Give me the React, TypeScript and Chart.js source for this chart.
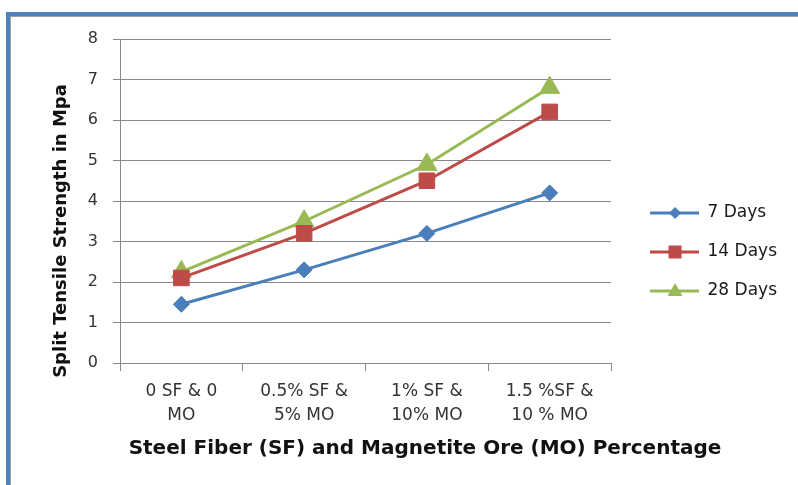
import React, { useEffect, useRef } from "react";
import { Chart, registerables } from "chart.js";

Chart.register(...registerables);

const categories: string[][] = [
  ["0 SF & 0", "MO"],
  ["0.5% SF &", "5% MO"],
  ["1% SF &", "10% MO"],
  ["1.5 %SF &", "10 % MO"],
];
const days7: number[] = [1.45, 2.3, 3.2, 4.2];
const days14: number[] = [2.1, 3.2, 4.5, 6.2];
const days28: number[] = [2.25, 3.5, 4.9, 6.8];
const seriesNames: string[] = ["7 Days", "14 Days", "28 Days"];
const yTicks: number[] = [0, 1, 2, 3, 4, 5, 6, 7, 8];

const BLUE = "#4a7ebb";
const RED = "#be4b48";
const GREEN = "#98b954";
const FONT = "'DejaVu Sans', sans-serif";

function legendImage(color: string, shape: string): HTMLCanvasElement {
  const c = document.createElement("canvas");
  c.width = 66;
  c.height = 20;
  const ctx = c.getContext("2d")!;
  ctx.strokeStyle = color;
  ctx.fillStyle = color;
  ctx.lineWidth = 3;
  ctx.beginPath();
  ctx.moveTo(17, 10);
  ctx.lineTo(66, 10);
  ctx.stroke();
  const cx = 42;
  const cy = 10;
  ctx.beginPath();
  if (shape === "diamond") {
    ctx.moveTo(cx, cy - 6);
    ctx.lineTo(cx + 6, cy);
    ctx.lineTo(cx, cy + 6);
    ctx.lineTo(cx - 6, cy);
  } else if (shape === "square") {
    ctx.rect(cx - 6.5, cy - 6.5, 13, 13);
  } else {
    ctx.moveTo(cx, cy - 8);
    ctx.lineTo(cx + 7.5, cy + 5);
    ctx.lineTo(cx - 7.5, cy + 5);
  }
  ctx.closePath();
  ctx.fill();
  return c;
}

const axisTitlesPlugin = {
  id: "axisTitles",
  afterDraw(chart: any, _args: any, opts: any) {
    const ctx = chart.ctx as CanvasRenderingContext2D;
    ctx.save();
    ctx.fillStyle = opts.color;
    ctx.textAlign = "center";
    ctx.textBaseline = "middle";
    ctx.font = opts.xFont;
    ctx.fillText(opts.xText, opts.xX, opts.xY);
    ctx.translate(opts.yX, opts.yY);
    ctx.rotate(-Math.PI / 2);
    ctx.font = opts.yFont;
    ctx.fillText(opts.yText, 0, 0);
    ctx.restore();
  },
};

export default function App() {
  const ref = useRef<HTMLCanvasElement | null>(null);

  useEffect(() => {
    if (!ref.current) return;
    const images = [
      legendImage(BLUE, "diamond"),
      legendImage(RED, "square"),
      legendImage(GREEN, "triangle"),
    ];
    const chart = new Chart(ref.current, {
      type: "line",
      data: {
        labels: categories,
        datasets: [
          {
            label: seriesNames[0],
            data: days7,
            borderColor: BLUE,
            backgroundColor: BLUE,
            borderWidth: 3,
            pointStyle: "rectRot",
            pointRadius: 8,
            pointBorderWidth: 1,
            tension: 0,
          },
          {
            label: seriesNames[1],
            data: days14,
            borderColor: RED,
            backgroundColor: RED,
            borderWidth: 3,
            pointStyle: "rect",
            pointRadius: 11,
            pointBorderWidth: 1,
            tension: 0,
          },
          {
            label: seriesNames[2],
            data: days28,
            borderColor: GREEN,
            backgroundColor: GREEN,
            borderWidth: 3,
            pointStyle: "triangle",
            pointRadius: 11.5,
            pointBorderWidth: 1,
            tension: 0,
          },
        ],
      },
      options: {
        responsive: false,
        animation: false,
        layout: { padding: { left: 0, top: 39, right: 11, bottom: 20 } },
        scales: {
          x: {
            type: "category",
            offset: true,
            grid: {
              offset: true,
              drawOnChartArea: false,
              drawTicks: true,
              tickLength: 8,
              color: "#888888",
            },
            border: { color: "#888888", width: 1 },
            ticks: {
              color: "#333333",
              font: { family: FONT, size: 17, lineHeight: 1.45 },
              padding: 8,
              maxRotation: 0,
              autoSkip: false,
            },
            afterFit: (scale: any) => {
              scale.height = 102;
            },
          },
          y: {
            min: 0,
            max: 8,
            afterBuildTicks: (scale: any) => {
              scale.ticks = yTicks.map((v) => ({ value: v }));
            },
            grid: { color: "#888888", tickLength: 7, drawTicks: true },
            border: { color: "#888888", width: 1 },
            ticks: {
              color: "#333333",
              font: { family: FONT, size: 16 },
              padding: 15,
            },
            afterFit: (scale: any) => {
              scale.width = 120;
            },
          },
        },
        plugins: {
          tooltip: { enabled: false },
          legend: {
            position: "right",
            labels: {
              usePointStyle: true,
              pointStyleWidth: 66,
              padding: 22,
              color: "#1a1a1a",
              font: { family: FONT, size: 17 },
              generateLabels: (ch: any) => {
                const items = Chart.defaults.plugins.legend.labels.generateLabels(ch);
                return items.map((it: any, i: number) => ({ ...it, pointStyle: images[i] }));
              },
            },
          },
          axisTitles: {
            color: "#111111",
            xText: "Steel Fiber (SF) and Magnetite Ore (MO) Percentage",
            xFont: `bold 20px ${FONT}`,
            xX: 425,
            xY: 449,
            yText: "Split Tensile Strength in Mpa",
            yFont: `bold 18px ${FONT}`,
            yX: 61,
            yY: 231,
          },
        } as any,
      },
      plugins: [axisTitlesPlugin],
    });
    return () => chart.destroy();
  }, []);

  return (
    <div
      style={{
        position: "absolute",
        left: 0,
        top: 0,
        width: 798,
        height: 485,
        overflow: "hidden",
        background: "#ffffff",
      }}
    >
      <div
        style={{
          position: "absolute",
          left: 6,
          top: 12,
          width: 1200,
          height: 1200,
          borderLeft: "4px solid #4f81bd",
          borderTop: "4px solid #4f81bd",
          boxShadow: "inset 1px 1px 0 #a0a0a0",
        }}
      />
      <canvas
        ref={ref}
        width={798}
        height={485}
        style={{ position: "absolute", left: 0, top: 0, width: 798, height: 485 }}
      />
    </div>
  );
}
